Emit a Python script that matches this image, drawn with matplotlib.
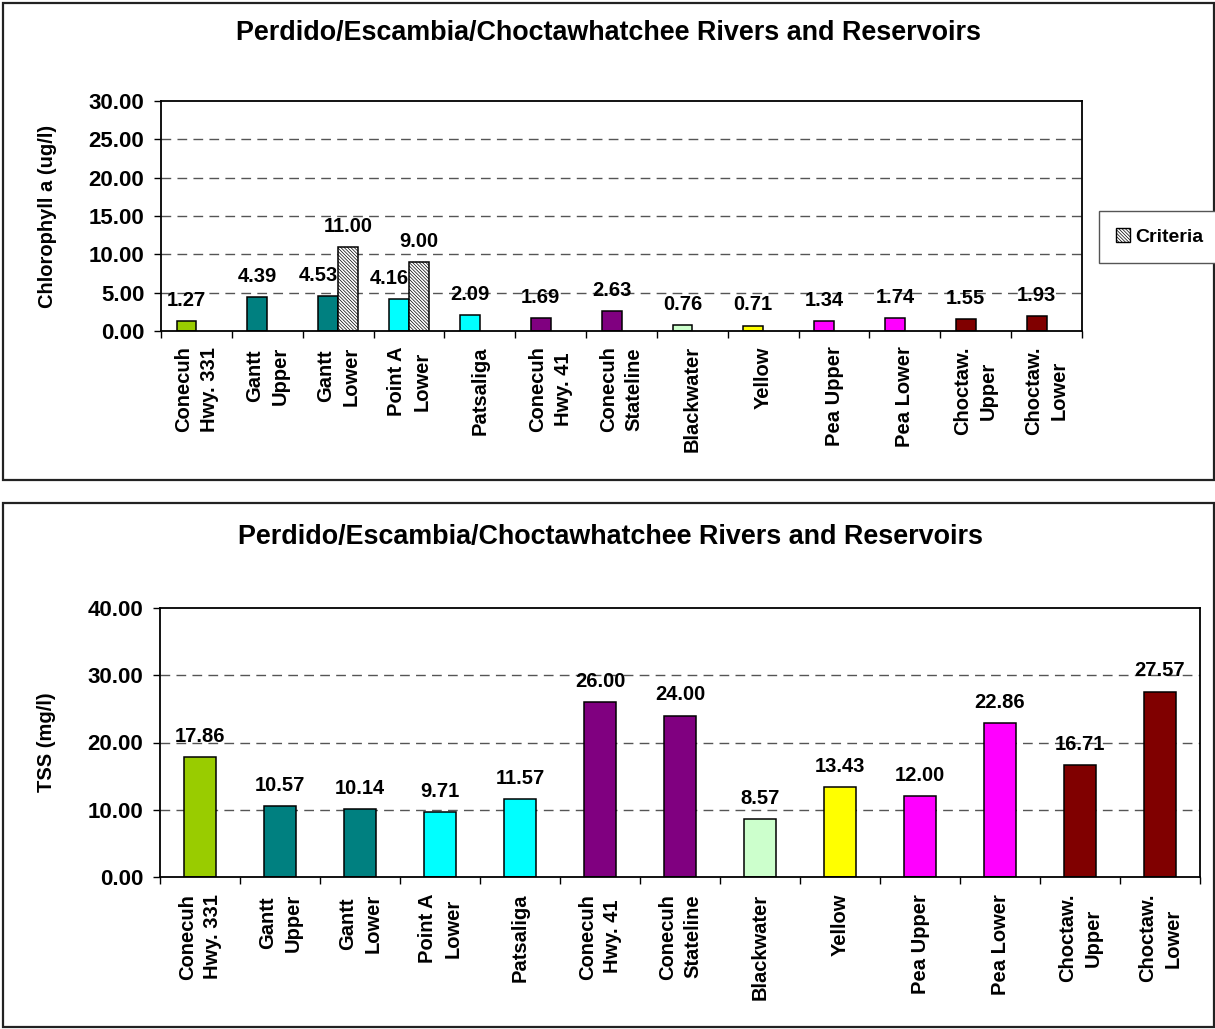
import numpy as np
import matplotlib
matplotlib.use("Agg")
import matplotlib.pyplot as plt
from matplotlib.patches import Rectangle, Patch

plt.rcParams['font.family'] = ['Liberation Sans', 'DejaVu Sans']
plt.rcParams['font.weight'] = 'bold'
plt.rcParams['hatch.linewidth'] = 0.5
plt.rcParams['hatch.color'] = '#333333'

# data
sites = ["Conecuh\nHwy. 331", "Gantt\nUpper", "Gantt\nLower", "Point A\nLower", "Patsaliga",
         "Conecuh\nHwy. 41", "Conecuh\nStateline", "Blackwater", "Yellow", "Pea Upper",
         "Pea Lower", "Choctaw.\nUpper", "Choctaw.\nLower"]
chl = [1.27, 4.39, 4.53, 4.16, 2.09, 1.69, 2.63, 0.76, 0.71, 1.34, 1.74, 1.55, 1.93]
criteria = [np.nan, np.nan, 11.00, 9.00, np.nan, np.nan, np.nan, np.nan, np.nan,
            np.nan, np.nan, np.nan, np.nan]
tss = [17.86, 10.57, 10.14, 9.71, 11.57, 26.00, 24.00, 8.57, 13.43, 12.00, 22.86, 16.71, 27.57]
colors = ["#99CC00", "#008080", "#008080", "#00FFFF", "#00FFFF", "#800080", "#800080",
          "#CCFFCC", "#FFFF00", "#FF00FF", "#FF00FF", "#800000", "#800000"]
title = "Perdido/Escambia/Choctawhatchee Rivers and Reservoirs"

HATCH = '\\' * 10

fig = plt.figure(figsize=(12.15, 10.29), dpi=100)
W, H = 1215, 1029

def fx(px):
    return px / W

def fy(py):
    return 1 - py / H

# outer frames
fig.patches.append(Rectangle((fx(3), fy(480)), fx(1211), 477 / H, transform=fig.transFigure,
                             fill=False, edgecolor='#222222', linewidth=1.6))
fig.patches.append(Rectangle((fx(3), fy(1027)), fx(1211), 524 / H, transform=fig.transFigure,
                             fill=False, edgecolor='#222222', linewidth=1.6))

fig.text(fx(608), fy(33), title, ha='center', va='center', fontsize=19.4, fontweight='bold')
fig.text(fx(610), fy(537), title, ha='center', va='center', fontsize=19.4, fontweight='bold')

x = np.arange(len(sites))


def style_axis(ax, ymax, step, ylabel, labx, pad):
    ax.set_xlim(-0.5, len(sites) - 0.5)
    ax.set_ylim(0, ymax)
    ax.set_yticks(np.arange(0, ymax + 0.1, step))
    ax.set_yticklabels([f"{v:.2f}" for v in np.arange(0, ymax + 0.1, step)])
    for v in np.arange(step, ymax, step):
        ax.axhline(v, color='#555555', linewidth=1.0, dashes=(7, 4.5), zorder=0)
    ax.set_xticks(x)
    ax.set_xticklabels(sites, rotation=90, multialignment='center', linespacing=1.45)
    ax.set_xticks(np.arange(-0.5, len(sites)), minor=True)
    ax.tick_params(axis='x', which='major', length=0, pad=pad, labelsize=14.5)
    ax.tick_params(axis='x', which='minor', length=5, width=1, direction='out')
    ax.tick_params(axis='y', length=5, width=1, direction='out', pad=7, labelsize=16)
    for lab in ax.get_xticklabels() + ax.get_yticklabels():
        lab.set_fontweight('bold')
    for s in ax.spines.values():
        s.set_linewidth(1.3)
    ax.set_ylabel(ylabel, fontsize=14.5, fontweight='bold')
    ax.yaxis.set_label_coords(labx, 0.5)


# top chart: chlorophyll
ax1 = fig.add_axes([fx(161), fy(331), (1082 - 161) / W, (331 - 101) / H])
w1 = 0.28
ax1.bar(x - w1 / 2, chl, w1, color=colors, edgecolor='black', linewidth=1.1, zorder=2)
ax1.bar(x + w1 / 2, criteria, w1, color='white', edgecolor='black', linewidth=1.1,
        hatch=HATCH, zorder=2)
for xi, v, c in zip(x - w1 / 2, chl, criteria):
    # labels next to a criteria bar sit a little to the left, as in the original
    dx = -7 if not np.isnan(c) else 0
    ax1.annotate(f"{v:.2f}", (xi, v), xytext=(dx, 8), textcoords='offset points',
                 ha='center', va='bottom', fontsize=14.5, fontweight='bold')
for xi, v in zip(x + w1 / 2, criteria):
    if not np.isnan(v):
        ax1.annotate(f"{v:.2f}", (xi, v), xytext=(0, 8), textcoords='offset points',
                     ha='center', va='bottom', fontsize=14.5, fontweight='bold')
style_axis(ax1, 30, 5, "Chlorophyll a (ug/l)", -0.113, 11)

leg = fig.legend(handles=[Patch(facecolor='white', edgecolor='black', hatch=HATCH,
                                label='Criteria')],
                 loc='center', bbox_to_anchor=(fx(1160), fy(237)),
                 prop={'weight': 'bold', 'size': 14}, fancybox=False, framealpha=1,
                 edgecolor='#555555', handlelength=0.7, handleheight=0.7,
                 handletextpad=0.3, borderpad=0.9, borderaxespad=0)
leg.get_frame().set_linewidth(1.0)

# bottom chart: TSS
ax2 = fig.add_axes([fx(160), fy(877), (1200 - 160) / W, (877 - 608) / H])
w2 = 0.41
ax2.bar(x, tss, w2, color=colors, edgecolor='black', linewidth=1.1, zorder=2)
for xi, v in zip(x, tss):
    ax2.annotate(f"{v:.2f}", (xi, v), xytext=(0, 8), textcoords='offset points',
                 ha='center', va='bottom', fontsize=14.5, fontweight='bold')
style_axis(ax2, 40, 10, "TSS (mg/l)", -0.1, 12)

fig.savefig("out.png", dpi=100)
